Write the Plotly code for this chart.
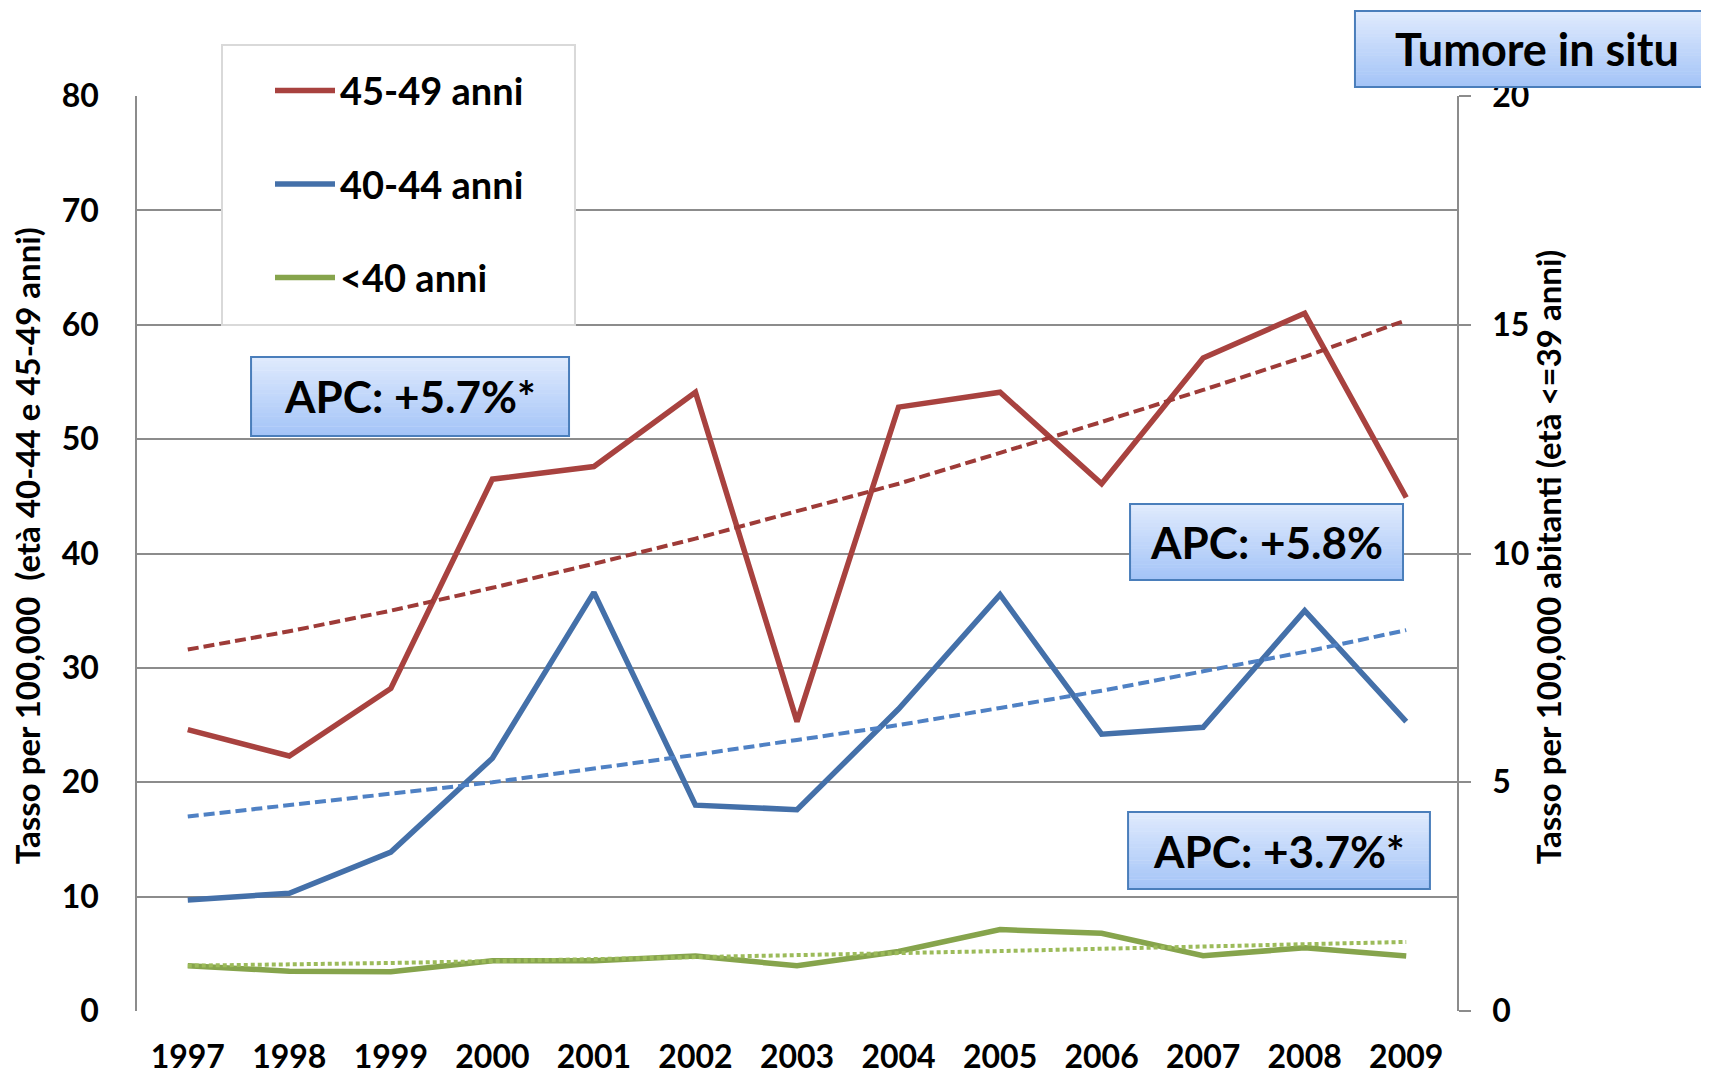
import plotly.graph_objects as go

# ---------------- data ----------------
years = ["1997", "1998", "1999", "2000", "2001", "2002", "2003",
         "2004", "2005", "2006", "2007", "2008", "2009"]

rate_45_49 = [24.6, 22.3, 28.2, 46.5, 47.6, 54.1, 25.3, 52.8, 54.1, 46.1, 57.1, 61.0, 44.9]
rate_40_44 = [9.7, 10.3, 13.9, 22.1, 36.6, 18.0, 17.6, 26.4, 36.4, 24.2, 24.8, 35.0, 25.3]
rate_lt40 = [0.99, 0.87, 0.86, 1.10, 1.10, 1.20, 0.99, 1.30, 1.78, 1.70, 1.21, 1.38, 1.20]

trend_45_49 = [31.6, 33.2, 35.0, 37.0, 39.1, 41.3, 43.7, 46.1, 48.8, 51.5, 54.3, 57.2, 60.4]
trend_40_44 = [17.0, 18.0, 19.0, 20.0, 21.2, 22.4, 23.7, 25.0, 26.5, 28.0, 29.7, 31.4, 33.3]
trend_lt40 = [0.99, 1.01, 1.05, 1.09, 1.13, 1.17, 1.22, 1.26, 1.31, 1.36, 1.41, 1.46, 1.51]

series_names = ["45-49 anni", "40-44 anni", "<40 anni"]
apc_labels = ["APC: +5.7%*", "APC: +5.8%", "APC: +3.7%*"]
title_text = "Tumore in situ"
left_title = "Tasso per 100,000  (età 40-44 e 45-49 anni)"
right_title = "Tasso per 100,000 abitanti (età <=39 anni)"

# ---------------- style ----------------
FONT = "Lato"
RED, BLUE, GREEN = "#A8423F", "#4470A9", "#86A44C"
RED_T, BLUE_T, GREEN_T = "#9E3B38", "#4F81C4", "#9CBB5A"
GRID = "#8C8C8C"

fig = go.Figure()

fig.add_trace(go.Scatter(x=years, y=rate_45_49, name=series_names[0], mode="lines",
                         line=dict(color=RED, width=5.5), legendgroup="a"))
fig.add_trace(go.Scatter(x=years, y=rate_40_44, name=series_names[1], mode="lines",
                         line=dict(color=BLUE, width=5.5), legendgroup="b"))
fig.add_trace(go.Scatter(x=years, y=rate_lt40, name=series_names[2], mode="lines",
                         line=dict(color=GREEN, width=5.5), legendgroup="c", yaxis="y2"))

fig.add_trace(go.Scatter(x=years, y=trend_45_49, mode="lines", showlegend=False,
                         line=dict(color=RED_T, width=4, dash="11px,5px")))
fig.add_trace(go.Scatter(x=years, y=trend_40_44, mode="lines", showlegend=False,
                         line=dict(color=BLUE_T, width=4, dash="11px,5px")))
fig.add_trace(go.Scatter(x=years, y=trend_lt40, mode="lines", showlegend=False, yaxis="y2",
                         line=dict(color=GREEN_T, width=4, dash="4px,3px")))

shapes = []


def gradient_box(x0, y0, x1, y1, n=24):
    top = (223, 234, 253)
    bot = (164, 196, 247)
    h = (y1 - y0) / n
    for i in range(n):
        t = i / (n - 1)
        c = tuple(round(top[k] + (bot[k] - top[k]) * t) for k in range(3))
        shapes.append(dict(type="rect", xref="paper", yref="paper",
                           x0=x0, x1=x1, y0=y1 - (i + 1) * h - 0.0005, y1=y1 - i * h,
                           fillcolor="rgb(%d,%d,%d)" % c, line=dict(width=0), layer="above"))
    shapes.append(dict(type="rect", xref="paper", yref="paper", x0=x0, x1=x1, y0=y0, y1=y1,
                       fillcolor="rgba(0,0,0,0)", line=dict(color="#4A7EBB", width=2),
                       layer="above"))


# legend frame
shapes.append(dict(type="rect", xref="paper", yref="paper", x0=0.0644, x1=0.3318,
                   y0=0.7497, y1=1.0557, fillcolor="white",
                   line=dict(color="#D9D9D9", width=2), layer="above"))

boxes = [(0.0864, 0.6284, 0.3273, 0.7148),
         (0.7523, 0.4710, 0.9591, 0.5541),
         (0.7508, 0.1333, 0.9795, 0.2175),
         (0.9227, 1.0098, 1.2000, 1.0929)]
for b in boxes:
    gradient_box(*b)

annotations = []
texts = apc_labels + [title_text]
for b, t in zip(boxes, texts):
    cx = (b[0] + b[2]) / 2
    size = 44
    if t == title_text:
        cx = (1537 - 137) / 1320
        size = 45
    annotations.append(dict(xref="paper", yref="paper", x=cx, y=(b[1] + b[3]) / 2,
                             text=t, showarrow=False, xanchor="center", yanchor="middle",
                             font=dict(family=FONT, size=size, color="black", weight="bold")))

annotations.append(dict(xref="paper", yref="paper", x=(27 - 137) / 1320, y=0.508,
                        text=left_title, textangle=-90, showarrow=False,
                        xanchor="center", yanchor="middle",
                        font=dict(family=FONT, size=33, color="black", weight="bold")))
annotations.append(dict(xref="paper", yref="paper", x=(1548 - 137) / 1320, y=0.496,
                        text=right_title, textangle=-90, showarrow=False,
                        xanchor="center", yanchor="middle",
                        font=dict(family=FONT, size=33, color="black", weight="bold")))

tickfont = dict(family=FONT, size=32, color="black", weight="bold")

# the page body adds an 8px offset, so the figure is 8px smaller and shifted
fig.update_layout(
    width=1701, height=1066,
    margin=dict(l=129, r=252, t=88, b=63, autoexpand=False),
    paper_bgcolor="white", plot_bgcolor="white",
    shapes=shapes, annotations=annotations,
    legend=dict(x=(270 - 137) / 1320, y=1.040, xanchor="left", yanchor="top",
                bgcolor="rgba(0,0,0,0)", borderwidth=0, tracegroupgap=41, itemwidth=60,
                font=dict(family=FONT, size=38, color="black", weight="bold")),
    xaxis=dict(type="category", range=[-0.5, 12.5], showgrid=False, showline=False,
               zeroline=False, ticks="", tickfont=tickfont, ticklabelstandoff=24),
    yaxis=dict(range=[0, 80], dtick=10, showgrid=True, gridcolor=GRID, gridwidth=1.5,
               showline=True, linecolor=GRID, linewidth=1.5, zeroline=False, ticks="",
               tickfont=tickfont, ticklabelstandoff=30),
    yaxis2=dict(range=[0, 20], dtick=5, overlaying="y", side="right", showgrid=False,
                showline=True, linecolor=GRID, linewidth=1.5, zeroline=False,
                ticks="outside", ticklen=12, tickcolor=GRID, tickwidth=1.5,
                tickfont=tickfont, ticklabelstandoff=15),
)

fig.write_html("out.html")
